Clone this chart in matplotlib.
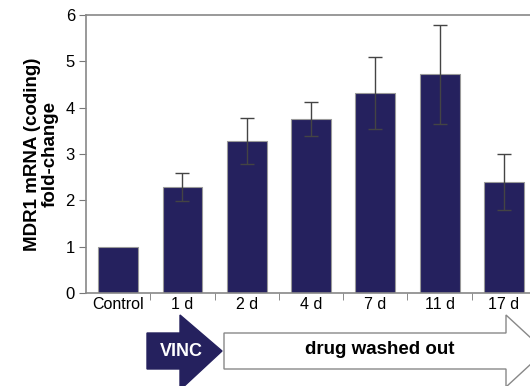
import numpy as np
import matplotlib
matplotlib.use('Agg')
import matplotlib.pyplot as plt
from matplotlib.patches import Polygon

plt.rcParams['font.family'] = ['Liberation Sans', 'DejaVu Sans']

categories = ['Control', '1 d', '2 d', '4 d', '7 d', '11 d', '17 d']
fold_change = [1.0, 2.28, 3.28, 3.76, 4.32, 4.72, 2.40]
errors = [0, 0.30, 0.50, 0.37, 0.78, 1.07, 0.60]

W, H = 530, 386
fig = plt.figure(figsize=(W / 100, H / 100), dpi=100)
ax = fig.add_axes([86 / W, (H - 293) / H, 450 / W, 278 / H])

x = np.arange(len(categories))
ax.bar(x, fold_change, width=0.62, color='#25215e', edgecolor='#9a9a9a', linewidth=0.8, zorder=2)
ax.errorbar(x[1:], fold_change[1:], yerr=errors[1:], fmt='none', ecolor='#444444',
            elinewidth=1.0, capsize=5, capthick=1.0, zorder=3)

ax.set_xlim(-0.5, len(categories) - 0.5)
ax.set_ylim(0, 6)
ax.set_yticks(range(7))
ax.tick_params(axis='y', labelsize=12, length=5, color='#777777', pad=3)
ax.set_xticks(x)
ax.set_xticklabels(categories, fontsize=11.5)
ax.tick_params(axis='x', which='major', length=0, pad=3)
ax.set_xticks(x[:-1] + 0.5, minor=True)
ax.tick_params(axis='x', which='minor', length=5, color='#777777')

for s in ['left', 'bottom', 'top']:
    ax.spines[s].set_color('#888888')
    ax.spines[s].set_linewidth(1.2)
ax.spines['right'].set_visible(False)

ax.set_ylabel('MDR1 mRNA (coding)\nfold-change', fontsize=13.5, fontweight='bold',
              labelpad=5, linespacing=1.05)


def px(pts):
    return [(px_ / W, 1 - py_ / H) for px_, py_ in pts]

# VINC arrow
vinc = Polygon(px([(147, 333), (180, 333), (180, 315), (222, 351), (180, 390),
                   (180, 369), (147, 369)]),
               closed=True, facecolor='#25215e', edgecolor='#25215e', transform=fig.transFigure)
fig.add_artist(vinc)
fig.text(181 / W, 1 - 351 / H, 'VINC', color='white', fontsize=13, fontweight='bold',
         ha='center', va='center')

# drug washed out arrow
wash = Polygon(px([(224, 333), (506, 333), (506, 315), (545, 351), (506, 387),
                   (506, 369), (224, 369)]),
               closed=True, facecolor='white', edgecolor='#888888', linewidth=1.0,
               transform=fig.transFigure)
fig.add_artist(wash)
fig.text(380 / W, 1 - 350 / H, 'drug washed out', color='black', fontsize=13.5,
         fontweight='bold', ha='center', va='center')

fig.savefig('out.png', dpi=100)
